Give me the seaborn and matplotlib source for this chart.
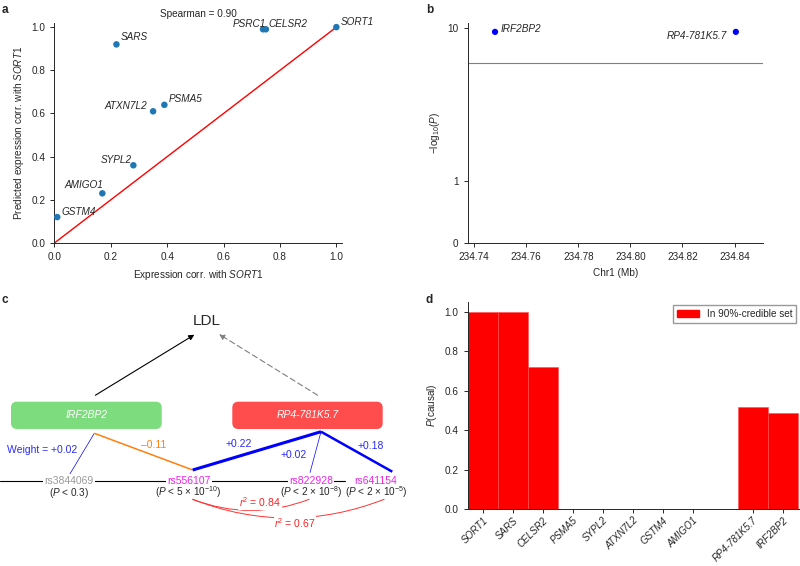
"""
Prédiction d'expression SORT1 / locus IRF2BP2 / P(causal) — figure en 4 panneaux
"""
import numpy as np
import pandas as pd
import matplotlib
matplotlib.use("Agg")
import matplotlib.pyplot as plt
import matplotlib.patches as mpatches
from matplotlib.patches import FancyBboxPatch, FancyArrowPatch
import seaborn as sns

# ── Données ──────────────────────────────────────────────────────────────────
# a : corrélation d'expression observée vs prédite
genes_a   = ["SORT1", "PSRC1", "CELSR2", "SARS", "PSMA5", "ATXN7L2", "SYPL2", "AMIGO1", "GSTM4"]
expr_corr = [1.00, 0.74, 0.75, 0.22, 0.39, 0.35, 0.28, 0.17, 0.01]
pred_corr = [1.00, 0.99, 0.99, 0.92, 0.64, 0.61, 0.36, 0.23, 0.12]
spearman  = 0.90

# b : association au locus chr1
genes_b     = ["IRF2BP2", "RP4-781K5.7"]
pos_mb      = [234.748, 234.8405]
neglogp     = [9.5, 9.5]
signif_line = 6.4

# c : schéma poids SNP -> gène
snps      = ["rs3844069", "rs556107", "rs822928", "rs641154"]
snp_p     = ["0.3", "5 × 10$^{-10}$", "2 × 10$^{-8}$", "2 × 10$^{-5}$"]
snp_sig   = [False, True, True, True]
edge_gene = ["IRF2BP2", "IRF2BP2", "RP4-781K5.7", "RP4-781K5.7", "RP4-781K5.7"]
edge_snp  = ["rs3844069", "rs556107", "rs556107", "rs822928", "rs641154"]
edge_w    = [0.02, -0.11, 0.22, 0.02, 0.18]
ld_pairs  = [("rs556107", "rs822928"), ("rs556107", "rs641154")]
ld_r2     = [0.84, 0.67]

# d : probabilité causale
genes_d  = ["SORT1", "SARS", "CELSR2", "PSMA5", "SYPL2", "ATXN7L2", "GSTM4", "AMIGO1",
            "RP4-781K5.7", "IRF2BP2"]
locus_d  = ["SORT1"] * 8 + ["IRF2BP2"] * 2
p_causal = [1.0, 1.0, 0.72, 0, 0, 0, 0, 0, 0.515, 0.485]

# ── Style ────────────────────────────────────────────────────────────────────
sns.set_style("ticks")
plt.rcParams["font.family"] = ["Liberation Sans", "DejaVu Sans"]
plt.rcParams["mathtext.fontset"] = "custom"
plt.rcParams["mathtext.rm"] = "Liberation Sans"
plt.rcParams["mathtext.it"] = "Liberation Sans:italic"
plt.rcParams["axes.linewidth"] = 0.7
plt.rcParams["xtick.major.width"] = 0.7
plt.rcParams["ytick.major.width"] = 0.7
plt.rcParams["xtick.major.size"] = 3
plt.rcParams["ytick.major.size"] = 3
fs = 7.2

fig = plt.figure(figsize=(8, 5.66), dpi=100)

# ── a. scatter ───────────────────────────────────────────────────────────────
ax_a = fig.add_axes([0.068, 0.5707, 0.3595, 0.389])
df_a = pd.DataFrame({"gene": genes_a, "expr": expr_corr, "pred": pred_corr})
ax_a.plot([0, 1], [0, 1], color="red", lw=1.0, zorder=1)
sns.scatterplot(data=df_a, x="expr", y="pred", ax=ax_a, color="#1f77b4",
                s=22, edgecolor="none", zorder=3)
lab_off = {"SORT1": (3, 4, "left"), "CELSR2": (2, 4, "left"), "PSRC1": (2, 4, "right"),
           "SARS": (3, 5, "left"), "PSMA5": (3, 4, "left"), "ATXN7L2": (-4, 4, "right"),
           "SYPL2": (-1, 4, "right"), "AMIGO1": (1, 6, "right"), "GSTM4": (3, 4, "left")}
for row in df_a.itertuples():
    dx, dy, ha = lab_off[row.gene]
    ax_a.annotate(row.gene, (row.expr, row.pred), xytext=(dx, dy), textcoords="offset points",
                  ha=ha, va="center", fontsize=fs, style="italic")
ax_a.set_xlim(0, 1.02)
ax_a.set_ylim(0, 1.02)
ax_a.set_xticks(np.arange(0, 1.01, 0.2))
ax_a.set_yticks(np.arange(0, 1.01, 0.2))
ax_a.set_xlabel(r"Expression corr. with $\it{SORT1}$", fontsize=fs)
ax_a.set_ylabel(r"Predicted expression corr. with $\it{SORT1}$", fontsize=fs)
ax_a.set_title(f"Spearman = {spearman:.2f}", fontsize=fs, pad=4)
ax_a.tick_params(labelsize=fs)
sns.despine(ax=ax_a)

# ── b. manhattan local ───────────────────────────────────────────────────────
ax_b = fig.add_axes([0.5846, 0.5707, 0.3694, 0.3881])
ax_b.set_yscale("function", functions=(lambda v: np.log10(1 + np.clip(v, 0, None)),
                                       lambda v: 10 ** v - 1))
df_b = pd.DataFrame({"gene": genes_b, "pos": pos_mb, "p": neglogp})
ax_b.axhline(signif_line, color="grey", lw=0.8)
sns.scatterplot(data=df_b, x="pos", y="p", ax=ax_b, color="blue", s=20,
                edgecolor="none", zorder=3)
ax_b.annotate(genes_b[0], (pos_mb[0], neglogp[0]), xytext=(4, 2), textcoords="offset points",
              ha="left", va="center", fontsize=fs, style="italic")
ax_b.annotate(genes_b[1], (pos_mb[1], neglogp[1]), xytext=(-6, -3), textcoords="offset points",
              ha="right", va="center", fontsize=fs, style="italic")
ax_b.set_xlim(234.7375, 234.851)
ax_b.set_ylim(0, 10.55)
ax_b.set_yticks([0, 1, 10])
ax_b.set_yticklabels(["0", "1", "10"])
ax_b.yaxis.set_minor_locator(matplotlib.ticker.NullLocator())
ax_b.set_xticks(np.round(np.arange(234.74, 234.841, 0.02), 2))
ax_b.set_xticklabels([f"{v:.2f}" for v in np.arange(234.74, 234.841, 0.02)])
ax_b.set_xlabel("Chr1 (Mb)", fontsize=fs)
ax_b.set_ylabel(r"$-$log$_{10}$($\it{P}$)", fontsize=fs)
ax_b.tick_params(labelsize=fs)
sns.despine(ax=ax_b)

# ── c. schéma ────────────────────────────────────────────────────────────────
ax_c = fig.add_axes([0, 0, 420 / 800, 286 / 566])
ax_c.set_xlim(0, 420)
ax_c.set_ylim(566, 280)
ax_c.axis("off")

gene_box = {"IRF2BP2": (11, 161.7, "#7ddc7d"), "RP4-781K5.7": (232.3, 382.7, "#ff4d4d")}
gene_anchor = {"IRF2BP2": (94.3, 433.3), "RP4-781K5.7": (321, 431.7)}
box_top, box_bot = 401.7, 429
for g, (x0, x1, col) in gene_box.items():
    ax_c.add_patch(FancyBboxPatch((x0, box_top), x1 - x0, box_bot - box_top,
                                  boxstyle="round,pad=0,rounding_size=6",
                                  fc=col, ec="none"))
    ax_c.text((x0 + x1) / 2, (box_top + box_bot) / 2, g, color="white", style="italic",
              ha="center", va="center", fontsize=7.5)

ax_c.text(207, 321, "LDL", ha="center", va="center", fontsize=11)
ax_c.annotate("", xy=(196.7, 333.3), xytext=(93, 396.7),
              arrowprops=dict(arrowstyle="-|>", color="black", lw=0.8, mutation_scale=8))
ax_c.annotate("", xy=(216.7, 332.7), xytext=(320, 396.7),
              arrowprops=dict(arrowstyle="-|>", color="grey", lw=0.8, ls=(0, (5, 3)),
                              mutation_scale=8))

# ligne génomique + SNPs
snp_y = 480.7
ax_c.plot([0, 345], [snp_y, snp_y], color="black", lw=0.8, zorder=1)
snp_x = [69.3, 188.7, 311, 376]
snp_anchor = {"rs3844069": (69.3, 475), "rs556107": (192.7, 470),
              "rs822928": (310, 472.7), "rs641154": (392.3, 471.7)}
for name, x, pv, sig in zip(snps, snp_x, snp_p, snp_sig):
    ax_c.text(x, snp_y, name, ha="center", va="center", fontsize=7.5,
              color="#ee22ee" if sig else "#999999", zorder=3,
              bbox=dict(fc="white", ec="none", pad=1.0))
    ax_c.text(x, 492.5, r"($\it{P}$ < " + pv + ")", ha="center", va="center", fontsize=7.2,
              zorder=3)

# poids
for g, s, w in zip(edge_gene, edge_snp, edge_w):
    (x0, y0), (x1, y1) = gene_anchor[g], snp_anchor[s]
    ax_c.plot([x0, x1], [y0, y1], color="#0000ff" if w > 0 else "#ff7f0e",
              lw=max(0.5, abs(w) * 10), solid_capstyle="butt", zorder=2)
w_lab_pos = [(41.7, 450), (153.3, 445), (238.3, 444), (294, 455), (370.7, 445.7)]
for (x, y), w, i in zip(w_lab_pos, edge_w, range(len(edge_w))):
    txt = f"{w:+.2f}".replace("-", "\u2013")
    if i == 0:
        txt = "Weight = " + txt
    ax_c.text(x, y, txt, ha="center", va="center", fontsize=7.5,
              color="#2a2aff" if w > 0 else "#ff7f0e")

# LD arcs
arc_start = (190, 498.3)
arc_end = {"rs822928": (311.7, 498.3), "rs641154": (386.7, 498.3)}
r2_pos = [(260, 502), (295, 523.3)]
for (a, b), r2, (tx, ty) in zip(ld_pairs, ld_r2, r2_pos):
    ax_c.add_patch(FancyArrowPatch(arc_start, arc_end[b], arrowstyle="-",
                                   connectionstyle="arc3,rad=0.2", color="#ff3030", lw=0.7))
    ax_c.text(tx, ty, r"$\it{r}$$^2$ = " + f"{r2:.2f}", ha="center", va="center",
              fontsize=7.5, color="#ff2020",
              bbox=dict(fc="white", ec="none", pad=0.5))

# ── d. P(causal) ─────────────────────────────────────────────────────────────
ax_d = fig.add_axes([0.5846, 0.1007, 0.4144, 0.3663])
loci = list(dict.fromkeys(locus_d))
bar_x = [i + loci.index(l) for i, l in enumerate(locus_d)]
df_d = pd.DataFrame({"gene": genes_d, "x": bar_x, "p": p_causal})
sns.barplot(data=df_d, x="x", y="p", ax=ax_d, native_scale=True, width=1.0,
            color="red", saturation=1, edgecolor="#ff5050", linewidth=0.4)
ax_d.set_xticks(bar_x)
ax_d.set_xticklabels(genes_d, rotation=45, ha="right", rotation_mode="anchor",
                     style="italic", fontsize=7)
ax_d.tick_params(axis="x", pad=1.5)
ax_d.set_xlim(-0.5, 10.55)
ax_d.set_ylim(0, 1.05)
ax_d.set_yticks(np.arange(0, 1.01, 0.2))
ax_d.set_xlabel("")
ax_d.set_ylabel(r"$\it{P}$(causal)", fontsize=fs)
ax_d.tick_params(axis="y", labelsize=fs)
ax_d.legend(handles=[mpatches.Patch(color="red", label="In 90%-credible set")],
            loc="upper right", fontsize=fs, frameon=True, fancybox=False,
            edgecolor="grey", borderaxespad=0.3, handlelength=2.2)
sns.despine(ax=ax_d)

# lettres de panneaux
for lab, x, y in [("a", 2, 10), ("b", 426, 10), ("c", 2, 300), ("d", 426, 300)]:
    fig.text(x / 800, 1 - y / 566, lab, fontsize=8.5, fontweight="bold",
             ha="left", va="center")

fig.savefig("out.png", dpi=100)
plt.close()
